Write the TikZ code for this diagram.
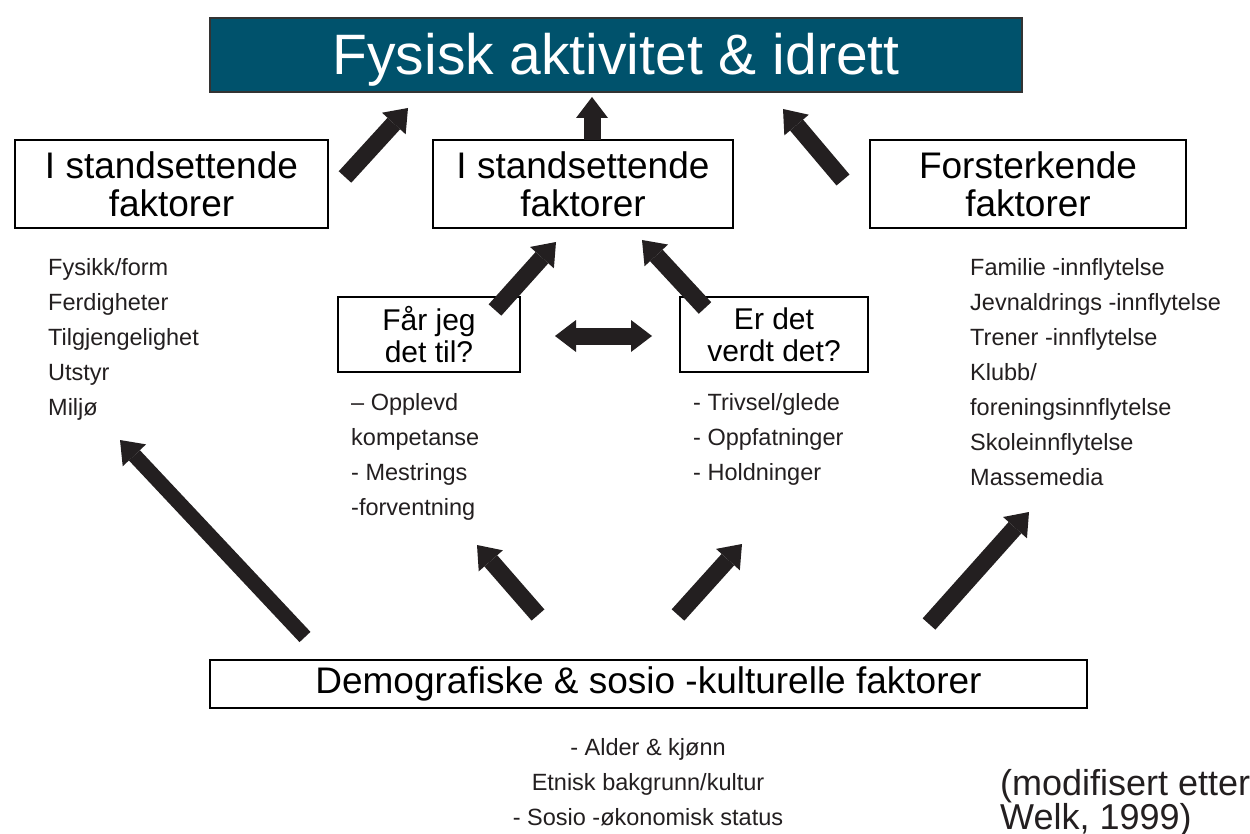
\documentclass[tikz,border=0pt]{standalone}
\usepackage{fontspec}
\setmainfont{Liberation Sans}
\usetikzlibrary {arrows.meta,
                 positioning}
\definecolor{titlefill}{RGB}{0,82,108}
\definecolor{inkblack}{RGB}{35,31,32}
\tikzset{
        base/.style={draw, align=center, line width=1.5pt, inner sep=0pt},
        headbox/.style={base, draw=black!80, fill=titlefill, text=white,
                        minimum width=812pt, minimum height=74pt, text depth=2pt,
                        font=\fontsize{57}{60}\selectfont},
        factbox/.style={base, minimum height=88pt, font=\fontsize{37}{38}\selectfont},
        askbox/.style={base, minimum height=75pt, font=\fontsize{30}{32}\selectfont},
        demobox/.style={base, minimum width=877pt, minimum height=48pt,
                        font=\fontsize{37}{38}\selectfont},
        list/.style={align=left, inner sep=0pt, anchor=north west, text=inkblack,
                     font=\fontsize{23.5}{35}\selectfont},
        fatarrow/.style={-{Triangle[length=21pt, width=32pt, line width=0pt]},
                         line width=17pt, draw=inkblack},
        fatdouble/.style={{Triangle[length=21pt, width=32pt, line width=0pt]}-{Triangle[length=21pt, width=32pt, line width=0pt]},
                          line width=17pt, draw=inkblack},
 }
\begin{document}
\begin{tikzpicture}[x=1pt, y=-1pt]
    \path[use as bounding box, fill=white] (0,0) rectangle (1250,834);

    \node[headbox] (title) at (616,55) {Fysisk aktivitet \& idrett};
    \node[factbox, minimum width=313pt] (enableL) at (171.5,184) {I standsettende\\faktorer};
    \node[factbox, minimum width=300pt] (enableM) at (583,184) {I standsettende\\faktorer};
    \node[factbox, minimum width=316pt] (reinforce) at (1028,184) {Forsterkende\\faktorer};
    \node[askbox, minimum width=182pt] (canI) at (429,334.5) {Får jeg\\det til?};
    \node[askbox, minimum width=188pt] (worth) at (774,334.5) {Er det\\verdt det?};
    \node[demobox] (demo) at (648.5,684) {Demografiske \& sosio -kulturelle faktorer};

    \node[list] (enableLlist) at (48,258) {Fysikk/form\\Ferdigheter\\Tilgjengelighet\\Utstyr\\Miljø};
    \node[list] (canIlist) at (351,393) {– Opplevd\\kompetanse\\- Mestrings\\-forventning};
    \node[list] (worthlist) at (693,393) {- Trivsel/glede\\- Oppfatninger\\- Holdninger};
    \node[list] (reinforcelist) at (970,258) {Familie -innflytelse\\Jevnaldrings -innflytelse\\Trener -innflytelse\\Klubb/\\foreningsinnflytelse\\Skoleinnflytelse\\Massemedia};
    \node[list, anchor=north, align=center] (demolist) at (648,738) {- Alder \& kjønn\\Etnisk bakgrunn/kultur\\- Sosio -økonomisk status};
    \node[list, font=\fontsize{36}{34}\selectfont] (source) at (1000,769) {(modifisert etter\\Welk, 1999)};

    \coordinate (enableLtail) at (345,177);
    \coordinate (enableLtip) at (408,108);
    \coordinate (enableMtail) at (592,140);
    \coordinate (enableMtip) at (592,97);
    \coordinate (reinforcetail) at (843,180);
    \coordinate (reinforcetip) at (783,109);
    \coordinate (canItail) at (495,310);
    \coordinate (canItip) at (556,242);
    \coordinate (worthtail) at (705,308);
    \coordinate (worthtip) at (642,240);
    \coordinate (linkL) at (555,336);
    \coordinate (linkR) at (652,336);
    \coordinate (demoLtail) at (305,637);
    \coordinate (demoLtip) at (120,440);
    \coordinate (demoCLtail) at (538,615);
    \coordinate (demoCLtip) at (477,545);
    \coordinate (demoCRtail) at (678,615);
    \coordinate (demoCRtip) at (742,544);
    \coordinate (demoRtail) at (929,624);
    \coordinate (demoRtip) at (1029,512);

    \draw[fatarrow] (enableLtail) -- (enableLtip);
    \draw[fatarrow] (enableMtail) -- (enableMtip);
    \draw[fatarrow] (reinforcetail) -- (reinforcetip);
    \draw[fatarrow] (canItail) -- (canItip);
    \draw[fatarrow] (worthtail) -- (worthtip);
    \draw[fatdouble] (linkL) -- (linkR);
    \draw[fatarrow, line width=15pt] (demoLtail) -- (demoLtip);
    \draw[fatarrow] (demoCLtail) -- (demoCLtip);
    \draw[fatarrow] (demoCRtail) -- (demoCRtip);
    \draw[fatarrow] (demoRtail) -- (demoRtip);
\end{tikzpicture}
\end{document}
